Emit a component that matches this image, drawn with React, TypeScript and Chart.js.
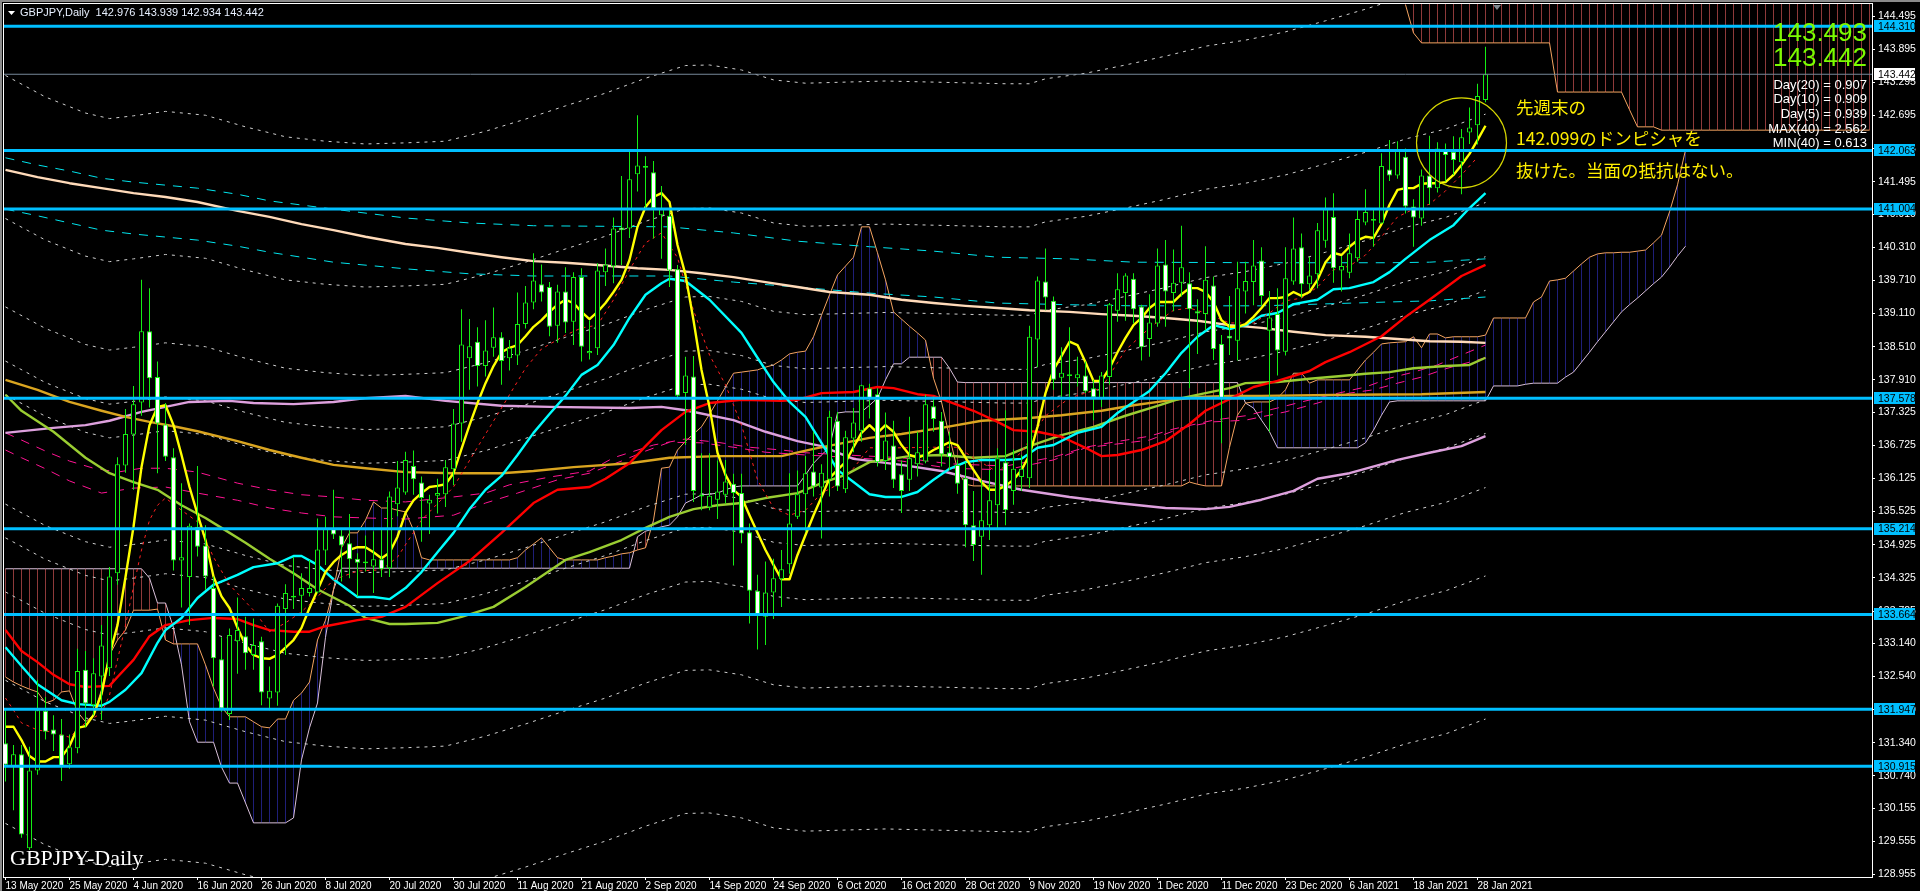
import React, { useEffect, useRef } from "react";
import { Chart, registerables } from "chart.js";
Chart.register(...registerables);

const dateLabels = ["13 May 2020","25 May 2020","4 Jun 2020","16 Jun 2020","26 Jun 2020","8 Jul 2020","20 Jul 2020","30 Jul 2020","11 Aug 2020","21 Aug 2020","2 Sep 2020","14 Sep 2020","24 Sep 2020","6 Oct 2020","16 Oct 2020","28 Oct 2020","9 Nov 2020","19 Nov 2020","1 Dec 2020","11 Dec 2020","23 Dec 2020","6 Jan 2021","18 Jan 2021","28 Jan 2021"];
const priceTicks = [144.495,143.895,143.295,142.695,142.095,141.495,140.910,140.310,139.710,139.110,138.510,137.910,137.325,136.725,136.125,135.525,134.925,134.325,133.725,133.140,132.540,131.940,131.340,130.740,130.155,129.555,128.955];
const levels = [144.310,142.063,141.004,137.578,135.214,133.664,131.947,130.915];
const lastPrice = 143.442;

// [open, high, low, close]
const candles: number[][] = [
[131.33,131.93,130.64,130.94],[130.92,131.30,130.12,131.13],[131.13,131.30,129.62,129.68],[129.43,131.27,129.40,130.84],[130.84,132.48,130.76,131.93],[131.92,132.17,131.40,131.54],[131.58,131.84,131.19,131.49],[131.49,131.77,130.65,130.91],[130.95,131.49,130.87,131.26],[131.24,133.04,131.15,132.64],
[132.66,133.00,131.62,132.05],[132.02,132.87,131.84,132.60],[132.54,133.47,131.75,133.10],[132.69,134.52,132.55,134.35],[134.41,136.51,134.20,136.38],[136.36,137.38,136.23,136.93],[136.92,137.80,135.92,137.47],[137.50,139.72,137.26,138.79],[138.79,139.57,137.41,137.94],[137.96,138.24,136.22,137.12],
[137.10,137.49,136.44,136.52],[136.51,136.67,134.46,134.64],[134.64,136.04,133.79,134.70],[134.34,135.31,133.47,135.27],[135.25,136.35,134.71,134.89],[134.91,135.28,134.11,134.35],[134.14,134.35,132.36,132.87],[132.85,133.25,131.90,131.96],[131.86,133.41,131.75,133.29],[133.18,133.97,132.59,133.38],
[133.27,133.62,132.66,132.96],[132.93,133.59,132.66,133.11],[133.18,133.26,132.02,132.25],[132.14,132.72,131.93,132.28],[132.25,133.86,132.01,133.82],[133.76,134.21,132.93,134.05],[133.97,134.70,133.76,134.00],[134.00,134.41,133.68,134.14],[134.05,134.65,133.99,134.14],[134.06,135.40,134.05,134.84],
[134.82,135.43,134.56,135.23],[135.23,135.92,135.03,135.11],[135.09,135.22,134.26,134.91],[134.95,135.48,134.32,134.66],[134.67,134.77,133.99,134.60],[134.59,135.09,134.44,134.62],[134.53,135.17,134.05,134.66],[134.66,135.22,134.34,134.48],[134.50,135.89,134.34,135.80],[135.66,136.44,135.44,135.96],
[135.87,136.61,135.83,136.46],[136.35,136.63,135.83,136.11],[136.05,136.16,134.98,135.77],[135.67,135.83,135.12,135.74],[135.81,136.12,135.49,135.86],[135.84,136.46,135.61,136.33],[136.29,137.38,136.00,137.12],[137.12,139.19,136.79,138.55],[138.30,139.01,137.73,138.52],[138.60,138.86,137.79,138.16],
[138.16,138.99,137.97,138.44],[138.49,139.22,138.33,138.68],[138.68,138.77,137.82,138.25],[138.30,138.63,138.08,138.49],[138.35,139.49,138.18,138.92],[138.92,139.61,138.84,139.31],[139.31,140.20,139.19,139.71],[139.64,140.00,139.33,139.49],[139.59,139.68,138.70,138.87],[138.89,139.63,138.58,139.51],
[139.51,139.95,138.76,138.95],[138.96,139.86,138.54,139.77],[139.77,139.93,138.24,138.51],[138.39,138.99,138.28,138.43],[138.48,140.02,138.36,139.89],[139.86,140.29,139.61,140.00],[139.96,140.85,139.66,140.65],[140.67,141.60,139.99,140.62],[140.65,142.04,140.48,141.54],[141.63,142.70,141.32,141.79],
[141.75,141.96,141.00,141.78],[141.67,141.87,140.47,141.01],[140.89,141.42,140.10,141.01],[140.88,141.01,139.59,139.89],[139.91,139.99,137.58,137.62],[137.67,138.33,136.73,137.99],[137.97,138.34,135.70,135.90],[135.80,136.58,135.55,135.83],[135.60,136.58,135.55,135.81],[135.74,136.45,135.39,135.89],
[135.83,136.46,135.67,136.07],[136.03,136.21,134.55,135.86],[135.86,136.21,134.95,135.13],[135.15,135.31,133.50,134.09],[134.09,134.38,133.03,133.67],[133.62,134.62,133.11,134.06],[134.06,134.67,133.58,134.32],[134.30,134.83,133.80,134.48],[134.57,136.22,134.40,135.31],[135.43,136.27,135.39,135.84],
[135.84,136.53,135.16,136.22],[136.25,136.97,135.80,135.98],[135.96,136.38,135.04,136.23],[136.10,137.35,135.80,137.24],[137.17,137.33,135.90,135.98],[135.93,136.99,135.86,136.87],[136.85,137.40,136.60,137.14],[136.99,137.82,136.79,137.81],[137.76,137.84,137.21,137.58],[137.65,137.76,136.34,136.42],
[136.44,137.32,136.28,136.81],[136.72,137.17,135.95,136.10],[136.20,136.45,135.50,135.90],[136.10,137.24,135.90,136.49],[136.38,136.97,136.16,136.60],[136.43,137.64,136.40,137.47],[137.43,137.61,136.97,137.20],[137.17,137.33,136.34,136.56],[136.60,136.97,136.28,136.51],[136.37,136.46,135.85,136.03],
[136.13,136.42,134.88,135.28],[135.28,135.90,134.63,134.92],[135.07,136.10,134.38,135.37],[135.28,136.28,135.01,135.73],[135.64,136.67,135.19,136.49],[136.42,137.36,135.28,135.55],[135.90,136.65,135.65,136.30],[136.15,136.55,135.90,136.30],[136.13,138.89,135.95,138.69],[138.64,139.78,138.14,139.71],
[139.69,140.29,139.17,139.40],[139.34,139.42,137.73,137.91],[137.95,138.50,137.55,138.04],[137.98,138.86,137.55,138.01],[137.94,138.33,137.79,138.01],[137.99,138.24,137.67,137.70],[137.76,137.91,137.18,137.59],[137.56,138.05,137.42,137.99],[137.96,139.30,137.82,139.28],[139.16,139.84,138.96,139.55],
[139.48,139.84,138.98,139.80],[139.74,139.84,138.93,139.19],[139.24,139.27,138.26,138.50],[138.65,139.46,138.33,138.95],[138.93,140.29,138.87,139.98],[140.00,140.44,138.87,139.51],[139.48,140.27,139.15,139.67],[139.67,140.70,139.42,139.95],[139.66,139.86,137.76,139.19],[139.15,139.37,138.38,139.11],
[139.10,140.33,138.81,139.72],[139.62,139.78,138.27,138.47],[138.56,138.72,136.76,137.58],[138.71,139.43,138.36,138.66],[138.62,140.05,138.26,139.57],[139.51,140.05,139.11,139.70],[139.68,140.44,139.26,139.98],[140.07,140.31,139.26,139.43],[138.80,139.52,136.97,139.04],[139.10,139.57,137.99,138.44],
[138.42,140.31,138.35,139.75],[139.69,140.85,139.63,140.29],[140.31,140.56,139.39,139.64],[139.64,140.14,139.54,139.80],[139.82,140.75,139.57,140.62],[140.43,141.21,140.30,141.00],[140.86,141.29,139.67,139.93],[139.89,140.15,139.51,139.97],[139.85,140.56,139.75,140.20],[140.11,140.98,140.05,140.82],
[140.76,141.36,140.71,140.95],[140.79,141.02,140.32,140.82],[140.74,142.01,140.74,141.78],[141.72,142.25,141.51,141.61],[141.61,142.23,141.55,142.07],[141.95,142.10,140.92,141.05],[141.05,141.18,140.32,140.85],[140.83,141.72,140.70,141.61],[141.61,142.33,141.08,141.38],[141.38,142.21,141.30,142.10],
[142.09,142.19,141.50,141.98],[142.04,142.32,141.62,141.89],[141.85,142.45,141.27,142.30],[142.39,142.84,142.18,142.48],[142.52,143.27,142.17,143.05],[142.976,143.939,142.934,143.442],
];

const ma5Values = [131.63,131.63,131.39,131.10,131.00,131.00,131.08,131.08,131.28,131.61,131.64,131.84,132.22,132.93,133.47,134.34,135.25,136.33,137.09,137.42,137.45,137.09,136.55,135.97,135.48,135.01,134.35,133.99,133.78,133.42,133.11,132.93,132.87,132.86,132.93,133.06,133.20,133.42,133.78,134.10,134.43,134.61,134.74,134.83,134.88,134.88,134.79,134.68,134.78,135.07,135.50,135.73,135.86,135.97,135.99,136.02,136.22,136.66,137.09,137.49,137.85,138.16,138.41,138.49,138.54,138.70,138.87,138.99,139.14,139.27,139.36,139.30,139.14,139.01,139.14,139.30,139.50,139.72,140.08,140.68,141.04,141.22,141.29,141.13,140.35,139.81,138.99,138.09,137.42,136.59,136.19,135.92,135.79,135.46,135.14,134.83,134.56,134.30,134.30,134.74,135.10,135.46,135.79,136.13,136.28,136.42,136.69,136.95,137.09,136.95,137.09,136.97,136.73,136.55,136.50,136.55,136.64,136.71,136.78,136.73,136.50,136.28,136.06,135.92,135.92,135.99,136.10,136.28,136.55,137.06,137.67,138.09,138.34,138.60,138.54,138.23,137.89,137.89,138.12,138.41,138.67,138.90,139.03,139.21,139.32,139.32,139.32,139.46,139.57,139.57,139.50,139.32,138.99,138.87,138.87,138.92,139.05,139.21,139.39,139.39,139.41,139.50,139.43,139.50,139.72,140.04,140.21,140.17,140.32,140.44,140.50,140.48,140.73,141.08,141.35,141.38,141.38,141.46,141.47,141.47,141.49,141.62,141.80,142.00,142.25,142.51];

const ma10Bars = [0,1,2,4,6,8,10,12,13,14,15,16,17,18,19,20,22,24,26,28,31,33,35,37,39,41,44,47,49,52,56,59,62,65,67,70,72,74,76,78,80,82,84,86,88,90,92,94,96,98,100,102,104,106,108,112,116,119,121,124,127,130,133,137,140,143,146,148,150,153,156,158,160,162,164,166,168,170,172,174,176,178,180,182,184];
const ma10Values = [132.15,131.93,131.70,131.57,131.53,131.44,131.70,131.88,132.20,132.84,133.47,134.16,134.83,135.37,135.64,135.77,135.55,135.34,134.70,134.20,133.74,133.35,133.51,133.71,133.98,134.29,134.45,134.47,134.70,135.37,135.97,136.69,137.40,138.12,138.47,138.72,138.85,138.90,139.36,139.90,140.39,140.57,140.12,139.17,138.36,137.82,137.09,136.10,135.59,135.46,135.55,135.86,136.01,136.31,136.68,136.68,136.69,136.69,136.50,136.24,136.60,137.26,137.58,137.76,138.45,138.85,139.17,139.21,139.12,138.94,138.94,139.12,139.34,139.39,139.59,139.90,139.97,140.17,140.50,140.86,141.00,141.09,141.33,141.62,141.94];

const ma20Bars = [0,2,4,7,9,12,13,15,17,19,20,22,24,26,29,31,34,36,37,39,41,44,46,48,50,52,54,56,58,60,62,64,66,68,70,72,74,76,78,80,82,83,85,88,92,94,96,98,100,102,104,106,108,110,112,114,116,118,120,122,125,127,129,131,134,137,139,141,143,145,147,149,151,153,155,157,159,161,164,166,168,171,173,175,178,181,183,185];
const ma20Values = [133.07,132.73,132.40,132.11,132.04,132.01,132.08,132.30,132.60,133.15,133.38,133.60,133.96,134.20,134.38,134.52,134.59,134.72,134.72,134.56,134.30,133.98,133.98,133.94,134.14,134.43,134.79,135.14,135.57,135.92,136.17,136.55,136.95,137.29,137.62,138.00,138.18,138.54,139.03,139.45,139.66,139.74,139.70,139.36,138.76,138.31,137.87,137.51,137.24,136.77,136.28,136.06,135.84,135.79,135.79,135.88,136.10,136.30,136.42,136.46,136.46,136.48,136.68,136.73,136.95,137.06,137.31,137.51,137.71,138.03,138.40,138.69,138.90,138.83,138.90,139.07,139.12,139.28,139.36,139.55,139.57,139.68,139.86,140.10,140.44,140.71,141.02,141.29];

const ma40Bars = [0,2,4,6,8,10,13,14,16,18,20,23,26,29,31,33,36,38,40,44,47,50,54,58,62,66,69,73,75,78,80,82,85,88,92,97,99,102,106,109,111,114,116,118,121,124,126,129,132,135,137,139,142,145,148,150,153,156,159,163,165,168,172,175,178,182,185];
const ma40Values = [133.38,133.00,132.80,132.57,132.40,132.35,132.37,132.53,132.84,133.27,133.47,133.56,133.60,133.58,133.47,133.38,133.35,133.35,133.45,133.56,133.62,133.80,134.23,134.63,135.14,135.68,135.92,135.97,136.12,136.40,136.71,137.00,137.33,137.49,137.55,137.53,137.55,137.67,137.69,137.78,137.76,137.65,137.62,137.51,137.35,137.15,137.00,136.97,136.88,136.68,136.53,136.55,136.64,136.80,137.11,137.35,137.56,137.78,137.89,138.07,138.23,138.41,138.70,139.05,139.36,139.79,139.99];

const oliveBars = [0,2,6,10,13,16,19,22,25,27,30,33,36,39,43,45,48,50,54,57,61,65,70,73,77,80,83,86,89,92,95,99,102,105,108,113,117,121,125,128,132,136,140,144,147,150,153,155,159,163,167,170,173,176,180,183,185];
const oliveValues = [137.64,137.35,136.97,136.50,136.22,136.06,135.92,135.64,135.41,135.23,134.96,134.67,134.41,134.12,133.82,133.60,133.49,133.49,133.51,133.62,133.80,134.16,134.65,134.79,135.01,135.23,135.43,135.57,135.64,135.68,135.77,135.86,136.04,136.19,136.42,136.53,136.55,136.50,136.53,136.71,136.91,137.06,137.26,137.44,137.58,137.67,137.76,137.85,137.87,137.93,137.98,138.02,138.05,138.12,138.16,138.18,138.31];

const goldBars = [0,4,8,12,15,18,21,24,29,33,37,41,45,50,56,62,66,71,78,83,89,97,101,108,112,117,122,128,132,137,141,145,149,153,157,168,177,185];
const goldValues = [137.91,137.73,137.51,137.35,137.24,137.15,137.07,136.98,136.80,136.64,136.50,136.37,136.31,136.24,136.22,136.22,136.26,136.33,136.40,136.50,136.53,136.53,136.66,136.86,136.93,137.04,137.17,137.22,137.27,137.35,137.45,137.53,137.60,137.62,137.62,137.64,137.65,137.69];

const plumBars = [0,6,10,13,17,20,23,28,31,36,41,45,50,55,62,68,78,82,85,91,95,99,102,106,112,117,122,127,133,139,145,150,153,157,161,164,168,174,178,182,185];
const plumValues = [136.95,137.04,137.09,137.17,137.33,137.42,137.51,137.53,137.49,137.47,137.51,137.58,137.62,137.53,137.44,137.42,137.40,137.42,137.36,137.18,136.97,136.80,136.71,136.48,136.37,136.26,136.08,135.92,135.79,135.68,135.59,135.57,135.61,135.74,135.90,136.12,136.22,136.46,136.59,136.71,136.89];

const peachBars = [0,4,8,12,16,20,24,29,33,37,41,45,50,54,58,62,66,70,74,79,83,87,91,95,99,103,108,112,116,120,124,128,133,137,141,145,149,153,157,161,165,170,174,178,182,185];
const peachValues = [141.71,141.58,141.47,141.38,141.29,141.22,141.13,140.97,140.86,140.73,140.62,140.50,140.37,140.30,140.21,140.13,140.06,140.03,139.99,139.93,139.90,139.84,139.77,139.68,139.59,139.50,139.45,139.36,139.30,139.25,139.21,139.17,139.14,139.10,139.07,139.03,138.98,138.90,138.85,138.78,138.72,138.69,138.65,138.61,138.60,138.58];

const cyanDashBars = [0,4,8,12,16,24,29,33,41,50,58,66,83,91,99,108,116,124,133,141,157,173,178,185];
const cyanUpperValues = [141.93,141.80,141.69,141.56,141.49,141.38,141.27,141.15,141.00,140.84,140.75,140.70,140.68,140.57,140.42,140.32,140.24,140.13,140.10,140.04,140.03,140.03,140.04,140.10];
const cyanLowerValues = [141.00,140.88,140.75,140.62,140.55,140.44,140.33,140.22,140.04,139.92,139.83,139.79,139.79,139.68,139.59,139.48,139.41,139.30,139.27,139.25,139.25,139.32,139.34,139.41];

const pinkUpperBars = [0,2,5,8,11,14,17,20,24,29,33,37,41,45,50,56,60,63,68,73,76,81,85,89,93,97,100,105,112,118,125,131,135,138,143,146,151,155,159,162,166,170,173,176,179,182,185];
const pinkUpperValues = [136.95,136.82,136.62,136.44,136.31,136.24,136.31,136.31,136.24,136.04,135.92,135.83,135.79,135.73,135.70,135.79,135.86,136.01,136.15,136.26,136.50,136.73,136.84,136.78,136.69,136.64,136.59,136.55,136.50,136.39,136.35,136.51,136.69,136.77,136.89,137.02,137.18,137.26,137.40,137.51,137.65,137.78,137.94,138.05,138.18,138.36,138.54];
const pinkLowerBars = [0,2,5,8,12,16,20,24,29,33,37,41,45,50,56,60,64,69,73,77,80,83,87,91,95,100,105,112,118,125,131,135,143,147,151,155,157,160,164,168,171,174,177,180,185];
const pinkLowerValues = [136.64,136.50,136.30,136.08,135.86,135.95,135.97,135.86,135.73,135.59,135.50,135.43,135.41,135.39,135.46,135.68,135.86,136.10,136.22,136.44,136.62,136.78,136.77,136.69,136.60,136.55,136.51,136.44,136.31,136.28,136.46,136.68,136.82,137.04,137.15,137.18,137.24,137.33,137.49,137.67,137.73,137.85,137.96,138.11,138.31];

const bandBars = [0,5,10,13,16,20,25,30,35,40,45,50,55,60,65,70,75,80,85,88,92,96,100,110,125,128,130,135,140,145,150,155,160,165,170,175,180,185];
const bandUp1 = [137.64,137.25,136.96,136.86,136.91,136.99,136.92,136.71,136.53,136.45,136.40,136.42,136.45,136.63,136.85,137.09,137.32,137.59,137.82,137.83,137.74,137.56,137.50,137.54,137.49,137.49,137.58,137.68,137.83,137.99,138.17,138.28,138.43,138.63,138.84,139.08,139.26,139.53];
const bandDn1 = [135.66,135.27,134.98,134.88,134.93,135.01,134.94,134.73,134.55,134.47,134.42,134.44,134.47,134.65,134.87,135.11,135.34,135.61,135.84,135.85,135.76,135.58,135.52,135.56,135.51,135.51,135.60,135.70,135.85,136.01,136.19,136.30,136.45,136.65,136.86,137.10,137.28,137.55];
const bandUp2 = [138.25,137.86,137.57,137.47,137.52,137.60,137.53,137.32,137.14,137.06,137.01,137.03,137.06,137.24,137.46,137.70,137.93,138.20,138.43,138.44,138.35,138.17,138.11,138.15,138.10,138.10,138.19,138.29,138.44,138.60,138.78,138.89,139.04,139.24,139.45,139.69,139.87,140.14];
const bandDn2 = [135.05,134.66,134.37,134.27,134.32,134.40,134.33,134.12,133.94,133.86,133.81,133.83,133.86,134.04,134.26,134.50,134.73,135.00,135.23,135.24,135.15,134.97,134.91,134.95,134.90,134.90,134.99,135.09,135.24,135.40,135.58,135.69,135.84,136.04,136.25,136.49,136.67,136.94];
const bandUp3 = [139.23,138.84,138.55,138.45,138.50,138.58,138.51,138.30,138.12,138.04,137.99,138.01,138.04,138.22,138.44,138.68,138.91,139.18,139.41,139.42,139.33,139.15,139.09,139.13,139.08,139.08,139.17,139.27,139.42,139.58,139.76,139.87,140.02,140.22,140.43,140.67,140.85,141.12];
const bandDn3 = [134.07,133.68,133.39,133.29,133.34,133.42,133.35,133.14,132.96,132.88,132.83,132.85,132.88,133.06,133.28,133.52,133.75,134.02,134.25,134.26,134.17,133.99,133.93,133.97,133.92,133.92,134.01,134.11,134.26,134.42,134.60,134.71,134.86,135.06,135.27,135.51,135.69,135.96];
const bandUp4 = [140.83,140.44,140.15,140.05,140.10,140.18,140.11,139.90,139.72,139.64,139.59,139.61,139.64,139.82,140.04,140.28,140.51,140.78,141.01,141.02,140.93,140.75,140.69,140.73,140.68,140.68,140.77,140.87,141.02,141.18,141.36,141.47,141.62,141.82,142.03,142.27,142.45,142.72];
const bandDn4 = [132.47,132.08,131.79,131.69,131.74,131.82,131.75,131.54,131.36,131.28,131.23,131.25,131.28,131.46,131.68,131.92,132.15,132.42,132.65,132.66,132.57,132.39,132.33,132.37,132.32,132.32,132.41,132.51,132.66,132.82,133.00,133.11,133.26,133.46,133.67,133.91,134.09,134.36];
const bandUp5 = [143.42,143.03,142.74,142.64,142.69,142.77,142.70,142.49,142.31,142.23,142.18,142.20,142.23,142.41,142.63,142.87,143.10,143.37,143.60,143.61,143.52,143.34,143.28,143.32,143.27,143.27,143.36,143.46,143.61,143.77,143.95,144.06,144.21,144.41,144.62,144.86,145.04,145.31];
const bandDn5 = [129.88,129.49,129.20,129.10,129.15,129.23,129.16,128.95,128.77,128.69,128.64,128.66,128.69,128.87,129.09,129.33,129.56,129.83,130.06,130.07,129.98,129.80,129.74,129.78,129.73,129.73,129.82,129.92,130.07,130.23,130.41,130.52,130.67,130.87,131.08,131.32,131.50,131.77];

const spanA = [132.53,132.44,132.37,132.31,132.26,132.06,132.11,132.26,132.28,131.90,
131.72,131.84,132.30,132.93,133.20,133.38,133.74,133.74,133.74,133.76,
133.20,133.13,133.13,133.13,133.13,132.75,132.33,131.99,131.81,131.81,
131.81,131.72,131.63,131.61,131.77,131.77,132.11,132.24,132.44,133.20,
133.56,134.11,134.87,135.14,135.14,135.37,135.70,135.59,135.59,135.55,
135.52,135.19,134.69,134.65,134.65,134.65,134.65,134.65,134.65,134.65,
134.65,134.65,134.65,134.65,134.69,134.83,134.94,135.05,134.87,134.69,
134.65,134.65,134.65,134.65,134.65,134.69,134.72,134.76,134.78,134.83,
134.87,135.37,136.31,136.33,136.64,136.80,136.93,137.06,137.29,137.53,
137.78,138.03,138.05,138.07,138.09,138.14,138.18,138.27,138.38,138.41,
138.43,138.69,139.08,139.45,139.81,139.97,140.13,140.68,140.68,140.21,
139.72,139.14,139.01,138.88,138.76,138.63,137.94,137.51,136.88,136.28,
136.02,135.99,135.99,135.99,135.99,135.99,135.99,135.99,135.99,135.99,
135.99,135.99,135.99,135.99,135.99,135.99,135.99,135.99,135.99,135.99,
135.99,135.99,135.99,135.99,135.99,135.99,135.99,135.99,136.06,136.02,
135.99,135.99,135.99,136.69,137.27,137.49,137.51,137.51,137.51,137.58,
137.73,138.03,138.03,137.85,137.91,137.91,137.91,137.91,137.91,138.09,
138.27,138.41,138.56,138.58,138.59,138.60,138.69,138.49,138.74,138.74,
138.67,138.69,138.69,138.69,138.69,138.72,139.03,139.03,139.03,139.03,
139.03,139.32,139.41,139.70,139.72,139.75,139.88,140.01,140.13,140.19,
140.21,140.21,140.22,140.22,140.24,140.26,140.39,140.53,140.95,141.44,142.07];
const spanB = [134.49,134.49,134.49,134.49,134.49,134.49,134.49,134.49,134.49,134.49,
134.49,134.49,134.49,134.49,134.49,134.49,134.49,134.49,134.32,133.87,
133.87,133.42,132.75,131.72,131.35,131.35,131.35,130.90,130.61,130.61,
130.25,129.89,129.89,129.89,129.89,129.89,129.98,131.03,131.61,132.06,
133.25,134.11,134.50,134.50,134.50,134.50,134.50,134.50,134.50,134.50,
134.50,134.50,134.50,134.50,134.50,134.50,134.50,134.50,134.50,134.50,
134.50,134.50,134.50,134.50,134.50,134.50,134.50,134.50,134.50,134.50,
134.50,134.50,134.50,134.50,134.50,134.50,134.50,134.50,134.50,135.07,
135.17,135.21,135.25,135.28,135.43,135.68,135.75,135.83,135.84,135.86,
135.92,135.97,135.99,135.99,135.99,135.99,135.99,135.99,135.99,135.99,
136.19,136.40,136.55,136.69,137.31,137.33,137.33,137.33,137.45,137.58,
137.91,138.20,138.20,138.32,138.32,138.32,138.32,138.32,138.12,137.87,
137.86,137.86,137.86,137.86,137.86,137.86,137.86,137.86,137.86,137.86,
137.86,137.86,137.86,137.86,137.86,137.86,137.86,137.86,137.86,137.86,
137.86,137.86,137.86,137.86,137.86,137.86,137.86,137.86,137.86,137.86,
137.86,137.86,137.86,137.86,137.86,137.49,137.40,137.18,136.97,136.68,
136.68,136.68,136.68,136.68,136.68,136.68,136.68,136.68,136.68,136.68,
136.77,137.00,137.27,137.51,137.53,137.53,137.53,137.53,137.53,137.53,
137.53,137.53,137.53,137.53,137.53,137.53,137.80,137.80,137.80,137.80,
137.83,137.85,137.85,137.85,137.85,137.96,138.05,138.23,138.41,138.60,
138.78,138.96,139.14,139.27,139.39,139.52,139.65,139.77,139.95,140.15,140.33];

const upperCloudFirstBar = 175;
const upperCloudA = [144.70,144.19,144.01,144.01,144.01,144.01,144.01,144.01,144.01,144.01,144.01,144.01,144.01,144.01,144.01,144.01,144.01,144.01,144.01,143.12,143.12,143.12,143.12,143.12,143.12,143.12,143.12,143.12,142.80,142.49,142.49,142.49,142.43,142.43,142.43,142.43,142.43,142.43,142.43,142.43,142.43,142.43,142.43,142.43,142.43,142.43,142.43,142.43,142.43,142.43,142.43,142.43,142.43,142.43,142.43,142.43,142.43,142.43,142.43];
const upperCloudB = [145.5,145.5,145.5,145.5,145.5,145.5,145.5,145.5,145.5,145.5,145.5,145.5,145.5,145.5,145.5,145.5,145.5,145.5,145.5,145.5,145.5,145.5,145.5,145.5,145.5,145.5,145.5,145.5,145.5,145.5,145.5,145.5,145.5,145.5,145.5,145.5,145.5,145.5,145.5,145.5,145.5,145.5,145.5,145.5,145.5,145.5,145.5,145.5,145.5,145.5,145.5,145.5,145.5,145.5,145.5,145.5,145.5,145.5,145.5];

const circleBar = 182;
const circlePrice = 142.2;

const headerText = "GBPJPY,Daily  142.976 143.939 142.934 143.442";
const watermark = "GBPJPY-Daily";
const bigPrices = ["143.493", "143.442"];
const statLines = ["Day(20) = 0.907", "Day(10) = 0.909", "Day(5) = 0.939", "MAX(40) = 2.562", "MIN(40) = 0.613"];
const noteLines = ["先週末の", "142.099のドンピシャを", "抜けた。当面の抵抗はない。"];

const AXIS_FONT = '"Liberation Sans Narrow", "Liberation Sans", sans-serif';
const CANDLE_GREEN = "#14ee14";
const xy = (bars: number[], values: number[]) => values.map((y, k) => ({ x: bars[k], y }));
const seq = (values: number[]) => values.map((y, x) => ({ x, y }));

const lineDs = (data: any[], color: string, width: number, order: number, dash?: number[]) => ({
  type: "line" as const,
  data,
  borderColor: color,
  borderWidth: width,
  borderDash: dash || [],
  pointRadius: 0,
  tension: 0,
  order,
  borderJoinStyle: "round" as const,
});

const overlay = {
  id: "overlay",
  afterDraw(chart: any) {
    const { ctx, scales, chartArea } = chart;
    ctx.save();
    // window frame
    ctx.fillStyle = "#8a8a8a";
    ctx.fillRect(0, 0, 1920, 2);
    ctx.fillRect(0, 0, 2, 891);
    ctx.strokeStyle = "#ffffff";
    ctx.lineWidth = 1;
    ctx.strokeRect(chartArea.left - 0.5, chartArea.top - 0.5, chartArea.width + 1, chartArea.height + 1);

    // level tags on the price axis
    ctx.textBaseline = "middle";
    ctx.textAlign = "left";
    ctx.font = `10.5px ${AXIS_FONT}`;
    for (const lv of levels) {
      const y = scales.y.getPixelForValue(lv);
      ctx.fillStyle = "#00bfff";
      ctx.fillRect(chartArea.right + 2, Math.round(y) - 6, 41, 12);
      ctx.fillStyle = "#000000";
      ctx.fillText(lv.toFixed(3), chartArea.right + 6, y + 0.5);
    }
    const ly = scales.y.getPixelForValue(lastPrice);
    ctx.fillStyle = "#ffffff";
    ctx.fillRect(chartArea.right + 2, Math.round(ly) - 6, 41, 12);
    ctx.fillStyle = "#000000";
    ctx.fillText(lastPrice.toFixed(3), chartArea.right + 6, ly + 0.5);

    // header
    ctx.fillStyle = "#ffffff";
    ctx.beginPath();
    ctx.moveTo(8, 11);
    ctx.lineTo(15, 11);
    ctx.lineTo(11.5, 15);
    ctx.closePath();
    ctx.fill();
    ctx.font = '11px "Liberation Sans Narrow", "Liberation Sans", sans-serif';
    ctx.fillStyle = "#e8f0ff";
    ctx.fillText(headerText, 20, 13);

    // marker triangle at the top
    ctx.fillStyle = "#808890";
    ctx.beginPath();
    ctx.moveTo(1493, 5);
    ctx.lineTo(1501, 5);
    ctx.lineTo(1497, 10);
    ctx.closePath();
    ctx.fill();

    // watermark
    ctx.font = '22px "Liberation Serif", serif';
    ctx.fillStyle = "#ffffff";
    ctx.textBaseline = "alphabetic";
    ctx.fillText(watermark, 10, 865);

    // big prices
    ctx.textAlign = "right";
    ctx.fillStyle = "#7cfc00";
    ctx.font = '26px "Liberation Sans", sans-serif';
    ctx.fillText(bigPrices[0], 1867, 41);
    ctx.fillText(bigPrices[1], 1867, 66);

    // stats
    ctx.fillStyle = "#ffffff";
    ctx.font = '13px "Liberation Sans", sans-serif';
    statLines.forEach((s, k) => ctx.fillText(s, 1867, 88.5 + k * 14.7));

    // note
    ctx.textAlign = "left";
    ctx.textBaseline = "middle";
    ctx.fillStyle = "#ffee00";
    ctx.font = '17.5px "Noto Sans CJK JP", sans-serif';
    noteLines.forEach((s, k) => ctx.fillText(s, 1516, 107 + k * 31.5));
    ctx.restore();
  },
};

export default function App() {
  const ref = useRef<HTMLCanvasElement>(null);
  useEffect(() => {
    document.body.style.margin = "0";
    document.body.style.background = "#000";
    const bull = (c: number[]) => c[3] >= c[0];
    const hatchData = spanA.map((a, x) => ({ x, y: [a, spanB[x]] }));
    const hatchColors = spanA.map((a, x) => (a >= spanB[x] ? "#1f1f78" : "#8e3a3a"));
    const upperHatch = upperCloudA.map((a, k) => ({ x: upperCloudFirstBar + k, y: [a, upperCloudB[k]] }));
    const levelEnds = [-1, 240];
    const bar = (extra: any) => ({ type: "bar" as const, grouped: false, inflateAmount: 0, borderSkipped: false, ...extra });

    const datasets: any[] = [
      bar({ data: upperHatch, barThickness: 1, backgroundColor: "#8e3a3a", borderWidth: 0, order: 40 }),
      bar({ data: hatchData, barThickness: 1, backgroundColor: hatchColors, borderWidth: 0, order: 40 }),
      lineDs(upperCloudA.map((y, k) => ({ x: upperCloudFirstBar + k, y })), "#f4a460", 1, 30),
      lineDs(seq(spanA), "#f4a460", 1, 30),
      lineDs(seq(spanB), "#d8bfd8", 1, 30),
      ...[bandUp1, bandDn1, bandUp2, bandDn2, bandUp3, bandDn3, bandUp4, bandDn4, bandUp5, bandDn5].map((v) =>
        lineDs(xy(bandBars, v), "#d0d0d0", 1, 25, [3, 5])
      ),
      lineDs(xy(cyanDashBars, cyanUpperValues), "#00e5ee", 1, 22, [9, 8]),
      lineDs(xy(cyanDashBars, cyanLowerValues), "#00e5ee", 1, 22, [9, 8]),
      lineDs(xy(pinkUpperBars, pinkUpperValues), "#ff1493", 1, 22, [9, 8]),
      lineDs(xy(pinkLowerBars, pinkLowerValues), "#ff1493", 1, 22, [9, 8]),
      lineDs(xy(peachBars, peachValues), "#ffdab9", 2.4, 20),
      lineDs(xy(plumBars, plumValues), "#dda0dd", 2.4, 19),
      lineDs(xy(goldBars, goldValues), "#daa520", 2.4, 18),
      lineDs(xy(oliveBars, oliveValues), "#9acd32", 2.4, 17),
      lineDs(xy(ma40Bars, ma40Values), "#ff0000", 2.4, 16),
      lineDs(xy(ma20Bars, ma20Values), "#00ffff", 2.4, 15),
      lineDs(xy(ma10Bars, ma10Values), "#ff2020", 1, 14, [3, 4]),
      lineDs(seq(ma5Values), "#ffff00", 2.4, 13),
      bar({ data: candles.map((c, x) => ({ x, y: [c[2], c[1]] })), barThickness: 1, backgroundColor: CANDLE_GREEN, borderWidth: 0, order: 6 }),
      bar({
        data: candles.map((c, x) => ({ x, y: [c[0], c[3]] })),
        barThickness: 5,
        backgroundColor: candles.map((c) => (bull(c) ? "#000000" : "#ffffff")),
        borderColor: CANDLE_GREEN,
        borderWidth: 1,
        order: 5,
      }),
      lineDs(levelEnds.map((x) => ({ x, y: lastPrice })), "#778899", 1, 3),
      ...levels.map((lv) => lineDs(levelEnds.map((x) => ({ x, y: lv })), "#00bfff", 3, 2)),
      {
        type: "scatter",
        data: [{ x: circleBar, y: circlePrice }],
        pointRadius: 45,
        pointHoverRadius: 45,
        pointBackgroundColor: "rgba(0,0,0,0)",
        pointBorderColor: "#d6d600",
        pointBorderWidth: 1.2,
        order: 1,
      },
    ];

    const chart = new Chart(ref.current as HTMLCanvasElement, {
      type: "bar",
      data: { datasets },
      plugins: [overlay],
      options: {
        animation: false,
        responsive: false,
        devicePixelRatio: 1,
        events: [],
        layout: { autoPadding: false, padding: { left: 4, top: 4, right: 0, bottom: 0 } },
        plugins: { legend: { display: false }, tooltip: { enabled: false } },
        scales: {
          x: {
            type: "linear",
            offset: false,
            min: -0.1875,
            max: 233.3125,
            grid: { offset: false, drawOnChartArea: false, color: "#ffffff", tickLength: 3 },
            border: { color: "#ffffff" },
            afterBuildTicks: (s: any) => { s.ticks = dateLabels.map((_, k) => ({ value: k * 8 })); },
            afterFit: (s: any) => { s.height = 14; s.paddingLeft = 0; s.paddingRight = 0; },
            ticks: {
              color: "#ffffff",
              autoSkip: false,
              maxRotation: 0,
              align: "start",
              padding: 0,
              font: { family: AXIS_FONT, size: 10 },
              callback: (_v: any, k: number) => dateLabels[k],
            },
          },
          y: {
            position: "right",
            min: 128.91,
            max: 144.714,
            grid: { drawOnChartArea: false, color: "#ffffff", tickLength: 3 },
            border: { color: "#ffffff" },
            afterBuildTicks: (s: any) => { s.ticks = priceTicks.map((value) => ({ value })); },
            afterFit: (s: any) => { s.width = 48; s.paddingTop = 0; s.paddingBottom = 0; },
            ticks: {
              color: "#ffffff",
              autoSkip: false,
              padding: 3,
              font: { family: AXIS_FONT, size: 10.5 },
              callback: (v: any) => Number(v).toFixed(3),
            },
          },
        },
      } as any,
    } as any);
    return () => chart.destroy();
  }, []);
  return <canvas ref={ref} width={1920} height={891} style={{ display: "block" }} />;
}
